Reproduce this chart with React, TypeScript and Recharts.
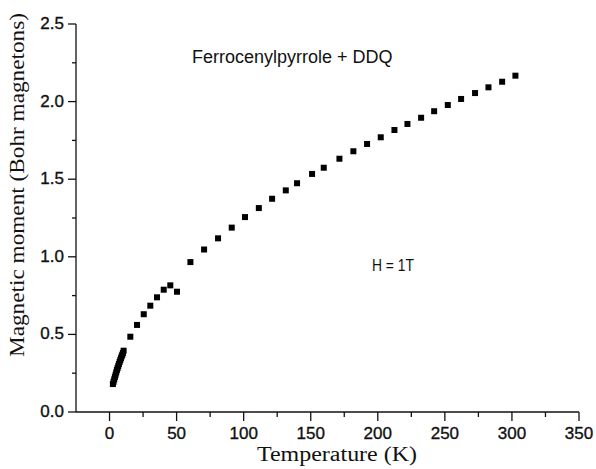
import React from "react";
import { ScatterChart, Scatter, XAxis, YAxis, ZAxis, Label } from "recharts";

// low temperature sweep (dense points, 2-10 K)
const lowTemps = [2.5, 3, 3.5, 4, 4.5, 5, 5.5, 6, 6.5, 7, 7.5, 8, 8.5, 9, 9.5, 10, 10.5];
const lowMoments = [0.18, 0.195, 0.21, 0.225, 0.24, 0.255, 0.27, 0.283, 0.296, 0.309, 0.322, 0.334, 0.346, 0.358, 0.369, 0.38, 0.395];

// 15 K and up
const temps = [
  15.5, 20.5, 25.5, 30.4, 35.4, 40.4, 45.3, 50.3, 60.3, 70.5, 80.9, 91.1, 101, 111.3, 121.2,
  131.4, 139.8, 151, 159.7, 171.4, 181.8, 192, 202.2, 212.4, 222.1, 232.3, 242, 252.2, 262.1,
  272.5, 282.5, 292.7, 302.6,
];
const moments = [
  0.485, 0.561, 0.63, 0.685, 0.739, 0.788, 0.816, 0.775, 0.966, 1.047, 1.119, 1.188, 1.256, 1.314, 1.374,
  1.428, 1.474, 1.534, 1.574, 1.632, 1.68, 1.727, 1.77, 1.817, 1.856, 1.896, 1.938, 1.978, 2.017,
  2.055, 2.092, 2.128, 2.167,
];

const xTicks = [0, 25, 50, 75, 100, 125, 150, 175, 200, 225, 250, 275, 300, 325, 350];
const yTicks = [0, 0.25, 0.5, 0.75, 1, 1.25, 1.5, 1.75, 2, 2.25, 2.5];

const data = [
  ...lowTemps.map((t, i) => ({ t, m: lowMoments[i] })),
  ...temps.map((t, i) => ({ t, m: moments[i] })),
];

const sans = "Liberation Sans, Arial, sans-serif";
const serif = "Liberation Serif, Times New Roman, serif";
const ink = "#111";

const XTick = (props: any) => {
  const { x, y, payload } = props;
  const major = payload.value % 50 === 0;
  return (
    <g>
      <line x1={x} x2={x} y1={y} y2={y + (major ? 9 : 5)} stroke={ink} strokeWidth={1.3} />
      {major && (
        <text x={x} y={y + 27} textAnchor="middle" fontSize={17} fontFamily={sans} fill={ink} stroke={ink} strokeWidth={0.35}>
          {payload.value}
        </text>
      )}
    </g>
  );
};

const YTick = (props: any) => {
  const { x, y, payload } = props;
  const major = Math.abs(payload.value * 2 - Math.round(payload.value * 2)) < 1e-6;
  return (
    <g>
      <line x1={x} x2={x - (major ? 8 : 4)} y1={y} y2={y} stroke={ink} strokeWidth={1.3} />
      {major && (
        <text x={x - 12} y={y + 5} textAnchor="end" fontSize={17} fontFamily={sans} fill={ink} stroke={ink} strokeWidth={0.35}>
          {payload.value.toFixed(1)}
        </text>
      )}
    </g>
  );
};

const Square = (props: any) => {
  const { cx, cy } = props;
  return <rect x={cx - 3} y={cy - 3} width={6} height={6} fill="#000" />;
};

export default function App() {
  return (
    <div style={{ position: "absolute", left: 0, top: 0, width: 596, height: 469, background: "#fff" }}>
      <ScatterChart width={596} height={469} margin={{ top: 24, right: 17, bottom: 0, left: 0 }}>
        <XAxis
          type="number"
          dataKey="t"
          domain={[-25, 350]}
          ticks={xTicks}
          interval={0}
          height={57}
          tickLine={false}
          tickSize={0}
          tickMargin={0}
          tick={<XTick />}
          axisLine={{ stroke: ink, strokeWidth: 1.3 }}
        >
          <Label
            content={(p: any) => {
              const vb = p.viewBox;
              return (
                <text
                  x={337}
                  y={vb.y + 49}
                  textAnchor="middle"
                  fontSize={20}
                  fontFamily={serif}
                  fill={ink}
                  textLength={160}
                  lengthAdjust="spacingAndGlyphs"
                >
                  Temperature (K)
                </text>
              );
            }}
          />
        </XAxis>
        <YAxis
          type="number"
          dataKey="m"
          domain={[0, 2.5]}
          ticks={yTicks}
          interval={0}
          width={76}
          tickLine={false}
          tickSize={0}
          tickMargin={0}
          tick={<YTick />}
          axisLine={{ stroke: ink, strokeWidth: 1.3 }}
        >
          <Label
            content={(p: any) => {
              const vb = p.viewBox;
              const cy = vb.y + 161;
              return (
                <text
                  x={24}
                  y={cy}
                  transform={`rotate(-90 24 ${cy})`}
                  textAnchor="middle"
                  fontSize={21}
                  fontFamily={serif}
                  fill={ink}
                  textLength={344}
                  lengthAdjust="spacingAndGlyphs"
                >
                  Magnetic moment (Bohr magnetons)
                </text>
              );
            }}
          />
        </YAxis>
        <ZAxis range={[36, 36]} />
        <Scatter data={data} shape={<Square />} isAnimationActive={false} />
        <text x={192} y={63} fontSize={18} fontFamily={sans} fill={ink}>
          Ferrocenylpyrrole + DDQ
        </text>
        <text x={372} y={271} fontSize={16} fontFamily={sans} fill={ink} textLength={42} lengthAdjust="spacingAndGlyphs">
          H = 1T
        </text>
      </ScatterChart>
    </div>
  );
}
